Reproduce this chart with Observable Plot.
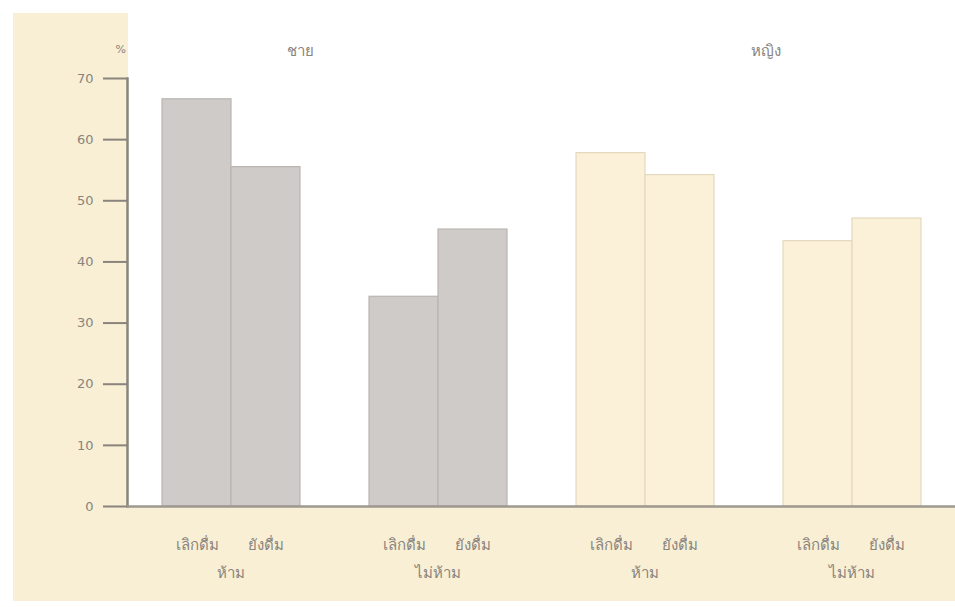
<!DOCTYPE html>
<html>
<head>
<meta charset="utf-8">
<script src="https://cdn.jsdelivr.net/npm/d3@7"></script>
<script src="https://cdn.jsdelivr.net/npm/@observablehq/plot@0.6"></script>
<style>
  body { margin: 0; background: #fff; }
  #wrap { position: relative; width: 955px; height: 607px; overflow: hidden; background: #fff; }
  .bg { position: absolute; background: #f8efd5; }
  #chart { position: absolute; left: 0; top: 0; }
  #chart svg [aria-label="y-axis tick"] { stroke-width: 2; stroke: #a39d95; }
  #chart svg [aria-label="frame"] { stroke-width: 2.5; stroke: #a39d95; }
  #chart svg [aria-label="x-axis tick label"], #chart svg [aria-label="fx-axis tick label"] { font-size: 15px; }
</style>
</head>
<body>
<div id="wrap">
  <div class="bg" style="left:13px; top:13px; width:115px; height:588px;"></div>
  <div class="bg" style="left:13px; top:507px; width:942px; height:94px;"></div>
  <div id="chart"></div>
</div>
<script>
// ---- data ----
const genders = ["ชาย", "หญิง"];
const policies = ["ห้าม", "ไม่ห้าม"];
const statuses = ["เลิกดื่ม", "ยังดื่ม"];
// order: ห้าม-เลิกดื่ม, ห้าม-ยังดื่ม, ไม่ห้าม-เลิกดื่ม, ไม่ห้าม-ยังดื่ม
const maleValues = [66.6, 55.5, 34.3, 45.3];
const femaleValues = [57.8, 54.2, 43.4, 47.1];
const yTicks = [0, 10, 20, 30, 40, 50, 60, 70];
const unitLabel = "%";

// ---- build table ----
const seriesByGender = {"ชาย": maleValues, "หญิง": femaleValues};
const rows = [];
genders.forEach(g => {
  policies.forEach((p, pi) => {
    statuses.forEach((s, si) => {
      rows.push({gender: g, policy: p, status: s, group: g + "|" + p, value: seriesByGender[g][pi * 2 + si]});
    });
  });
});
const groups = [];
genders.forEach(g => policies.forEach(p => groups.push(g + "|" + p)));

const textColor = "#8a847d";
const fontFamily = "'DejaVu Sans', 'Noto Sans', sans-serif";

const plot = Plot.plot({
  width: 955,
  height: 607,
  marginLeft: 127,
  marginRight: 0,
  marginTop: 78,
  marginBottom: 101,
  style: {background: "transparent", color: textColor, fontFamily, fontSize: "13px"},
  fx: {domain: groups, axis: "bottom", padding: 0, tickFormat: d => d.split("|")[1], tickSize: 0, tickPadding: 61, label: null},
  x: {domain: statuses, paddingInner: 0, paddingOuter: 0.49, tickSize: 0, tickPadding: 33, label: null},
  y: {domain: [0, 70], ticks: yTicks, tickSize: 24, tickPadding: 10, label: null, line: true},
  marks: [
    Plot.barY(rows.filter(d => d.gender === genders[0]), {fx: "group", x: "status", y: "value", fill: "#cfcbc8", stroke: "#bab5b1", strokeWidth: 1.2}),
    Plot.barY(rows.filter(d => d.gender === genders[1]), {fx: "group", x: "status", y: "value", fill: "#fbf1d8", stroke: "#e4d9bd", strokeWidth: 1.2}),
    Plot.ruleY([0], {stroke: "#9e9890", strokeWidth: 2.5}),
    Plot.text([unitLabel], {fx: () => groups[0], text: d => d, frameAnchor: "top-left", dx: -12, dy: -33, fontSize: 11, fill: textColor}),
    Plot.text([genders[0]], {fx: () => groups[0], text: d => d, frameAnchor: "top-right", dx: -34, dy: -33, textAnchor: "middle", fontSize: 15, fill: textColor}),
    Plot.text([genders[1]], {fx: () => groups[3], text: d => d, frameAnchor: "top-left", dx: 17, dy: -33, textAnchor: "middle", fontSize: 15, fill: textColor})
  ]
});
document.getElementById("chart").appendChild(plot);
</script>
</body>
</html>
